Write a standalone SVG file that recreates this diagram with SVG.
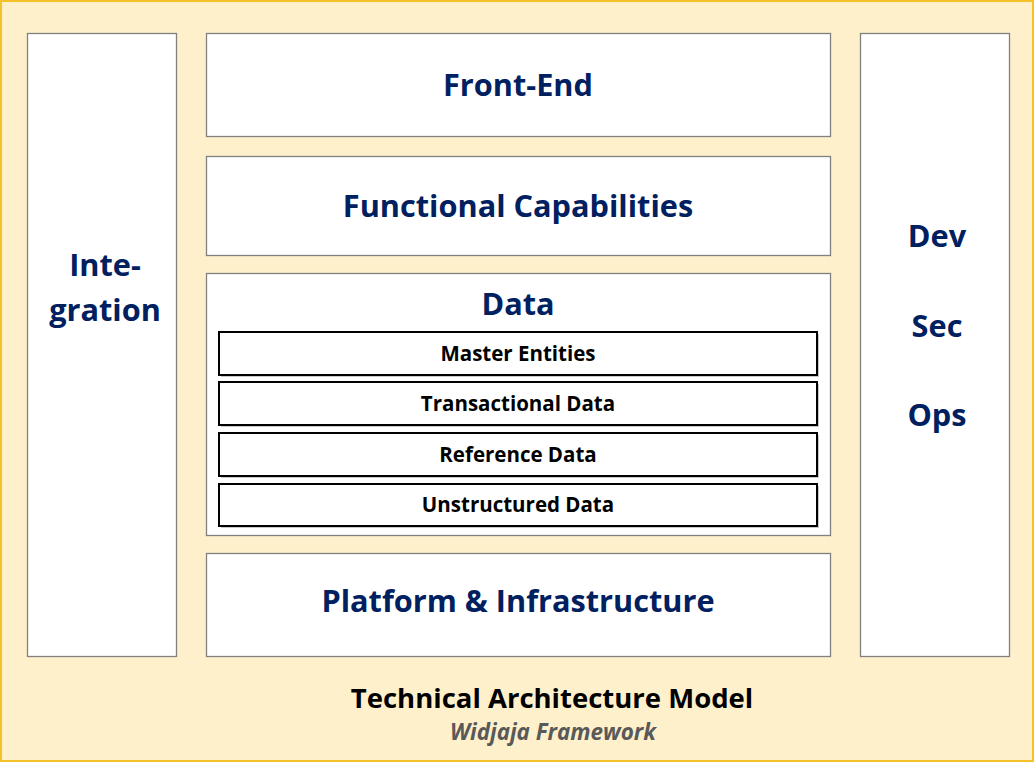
<svg xmlns="http://www.w3.org/2000/svg" width="1034" height="764" viewBox="0 0 1034 764">
<defs>
<style>
.box{fill:#ffffff;stroke:#808080;stroke-width:1.3}
.sub{fill:#ffffff;stroke:#000000;stroke-width:2}
.shadow{fill:#c8c8c8}
.big{font-family:"Open Sans","Liberation Sans",sans-serif;font-weight:bold;fill:#002060;text-anchor:middle;font-size:30.7px}
.small{font-family:"Open Sans","Liberation Sans",sans-serif;font-weight:bold;fill:#000000;text-anchor:middle;font-size:20.5px}
</style>
</defs>
<rect x="1" y="1" width="1032" height="760" fill="#fff0cc" stroke="#f5c22c" stroke-width="2"/>
<g id="integration">
<rect class="box" x="27.5" y="33.5" width="149" height="623"/>
<text class="big" x="105" y="276">Inte-</text>
<text class="big" x="105" y="321">gration</text>
</g>
<g id="frontend">
<rect class="box" x="206.5" y="33.5" width="624" height="103"/>
<text class="big" x="518" y="96">Front-End</text>
</g>
<g id="functional">
<rect class="box" x="206.5" y="156.5" width="624" height="99"/>
<text class="big" x="518" y="217">Functional Capabilities</text>
</g>
<g id="data">
<rect class="box" x="206.5" y="273.5" width="624" height="262"/>
<text class="big" x="518" y="315">Data</text>
<g id="master">
<rect class="shadow" x="221" y="334" width="598" height="43"/>
<rect class="sub" x="219" y="332" width="598" height="43"/>
<text class="small" x="518" y="361">Master Entities</text>
</g>
<g id="transactional">
<rect class="shadow" x="221" y="384" width="598" height="43"/>
<rect class="sub" x="219" y="382" width="598" height="43"/>
<text class="small" x="518" y="411">Transactional Data</text>
</g>
<g id="reference">
<rect class="shadow" x="221" y="435" width="598" height="43"/>
<rect class="sub" x="219" y="433" width="598" height="43"/>
<text class="small" x="518" y="462">Reference Data</text>
</g>
<g id="unstructured">
<rect class="shadow" x="221" y="486" width="598" height="42"/>
<rect class="sub" x="219" y="484" width="598" height="42"/>
<text class="small" x="518" y="512">Unstructured Data</text>
</g>
</g>
<g id="platform">
<rect class="box" x="206.5" y="553.5" width="624" height="103"/>
<text class="big" x="518" y="612">Platform &amp; Infrastructure</text>
</g>
<g id="devsecops">
<rect class="box" x="860.5" y="33.5" width="149" height="623"/>
<text class="big" x="937" y="247">Dev</text>
<text class="big" x="937" y="337">Sec</text>
<text class="big" x="937" y="426">Ops</text>
</g>
<g id="connectors"></g>
<g id="title">
<text x="552" y="708" font-family="'Open Sans','Liberation Sans',sans-serif" font-weight="bold" font-size="27.5" fill="#000000" text-anchor="middle">Technical Architecture Model</text>
<text x="553" y="740" font-family="'Open Sans','Liberation Sans',sans-serif" font-weight="bold" font-style="italic" font-size="22.4" fill="#595959" text-anchor="middle">Widjaja Framework</text>
</g>
</svg>
